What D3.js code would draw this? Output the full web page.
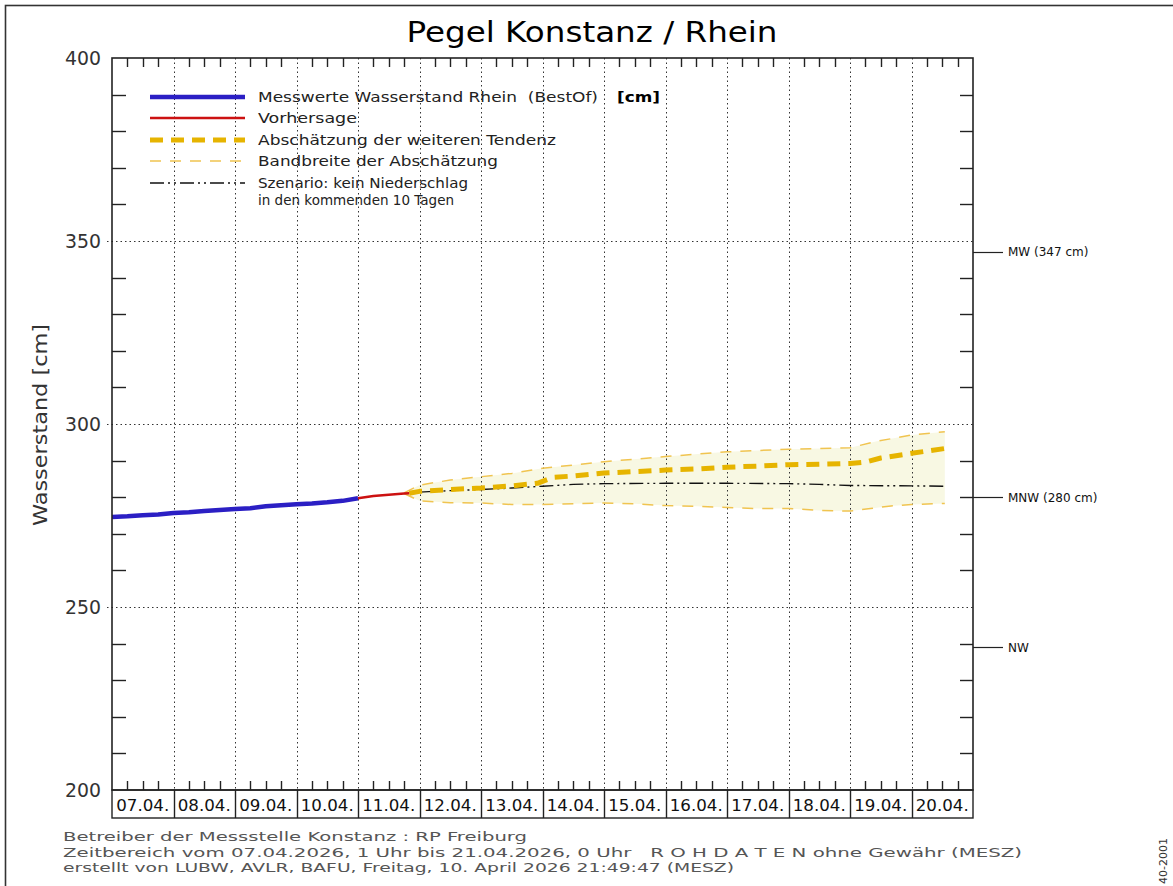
<!DOCTYPE html>
<html>
<head>
<meta charset="utf-8">
<script src="https://cdn.jsdelivr.net/npm/d3@7"></script>
<style>
  body { margin: 0; background: #fff; }
  svg { display: block; }
  text { font-family: "DejaVu Sans", sans-serif; white-space: pre; }
</style>
</head>
<body>
<script>
// Pegel Konstanz / Rhein -- Wasserstand, Vorhersage und Tendenz

var parseTime = d3.timeParse('%d.%m.%Y %H');

var titleText = 'Pegel Konstanz / Rhein';
var yAxisTitle = 'Wasserstand [cm]';
var yTickValues = [200, 250, 300, 350, 400];
var dayLabels = ['07.04.', '08.04.', '09.04.', '10.04.', '11.04.', '12.04.', '13.04.',
  '14.04.', '15.04.', '16.04.', '17.04.', '18.04.', '19.04.', '20.04.'];
var timeStart = '07.04.2026 00';
var timeEnd = '21.04.2026 00';

var refLabels = ['MW (347 cm)', 'MNW (280 cm)', 'NW'];
var refValues = [347, 280, 239];

var footerLines = [
  'Betreiber der Messstelle Konstanz : RP Freiburg',
  'Zeitbereich vom 07.04.2026, 1 Uhr bis 21.04.2026, 0 Uhr   R O H D A T E N ohne Gewähr (MESZ)',
  'erstellt von LUBW, AVLR, BAFU, Freitag, 10. April 2026 21:49:47 (MESZ)'
];
var sideCode = '40-2001';

var legendLabels = [
  'Messwerte Wasserstand Rhein  (BestOf)',
  'Vorhersage',
  'Abschätzung der weiteren Tendenz',
  'Bandbreite der Abschätzung',
  'Szenario: kein Niederschlag'
];
var legendSecondLine = 'in den kommenden 10 Tagen';
var legendUnit = '[cm]';

var measured = [
  ['07.04.2026 00', 274.6], ['07.04.2026 06', 274.8], ['07.04.2026 12', 275.1], ['07.04.2026 18', 275.3],
  ['08.04.2026 00', 275.7], ['08.04.2026 06', 275.9], ['08.04.2026 12', 276.2], ['08.04.2026 18', 276.5],
  ['09.04.2026 00', 276.8], ['09.04.2026 06', 277.0], ['09.04.2026 12', 277.5], ['09.04.2026 18', 277.8],
  ['10.04.2026 00', 278.1], ['10.04.2026 06', 278.3], ['10.04.2026 12', 278.6], ['10.04.2026 18', 279.0],
  ['11.04.2026 00', 279.7]
];

var forecast = [
  ['11.04.2026 00', 279.7], ['11.04.2026 06', 280.3], ['11.04.2026 12', 280.7],
  ['11.04.2026 18', 281.0], ['11.04.2026 20', 281.1]
];

var tendency = [
  ['11.04.2026 20', 281.1], ['12.04.2026 00', 281.6], ['12.04.2026 12', 282.1], ['13.04.2026 00', 282.5],
  ['13.04.2026 12', 283.1], ['13.04.2026 22', 283.8], ['14.04.2026 04', 285.4], ['14.04.2026 12', 285.8],
  ['15.04.2026 00', 286.6], ['15.04.2026 12', 287.0], ['16.04.2026 00', 287.4], ['16.04.2026 12', 287.7],
  ['17.04.2026 00', 288.2], ['17.04.2026 12', 288.5], ['18.04.2026 00', 288.9], ['18.04.2026 12', 289.0],
  ['19.04.2026 00', 289.2], ['19.04.2026 06', 289.6], ['19.04.2026 12', 290.7], ['20.04.2026 00', 292.0],
  ['20.04.2026 06', 292.6], ['20.04.2026 13', 293.3]
];

var bandUpper = [
  ['11.04.2026 18', 281.2], ['12.04.2026 00', 283.3], ['12.04.2026 12', 284.7], ['13.04.2026 00', 285.6],
  ['13.04.2026 12', 286.5], ['14.04.2026 00', 287.9], ['14.04.2026 12', 288.8], ['15.04.2026 00', 289.7],
  ['16.04.2026 00', 291.1], ['17.04.2026 00', 292.4], ['18.04.2026 00', 293.1], ['19.04.2026 00', 293.5],
  ['19.04.2026 10', 295.2], ['20.04.2026 00', 297.0], ['20.04.2026 13', 297.9]
];

var bandLower = [
  ['11.04.2026 18', 281.0], ['12.04.2026 00', 279.0], ['12.04.2026 12', 278.5], ['13.04.2026 00', 278.4],
  ['13.04.2026 12', 278.0], ['14.04.2026 00', 278.0], ['14.04.2026 12', 278.2], ['15.04.2026 00', 278.4],
  ['15.04.2026 12', 278.2], ['16.04.2026 00', 277.7], ['16.04.2026 12', 277.5], ['17.04.2026 00', 277.2],
  ['17.04.2026 12', 276.9], ['18.04.2026 00', 276.9], ['18.04.2026 12', 276.4], ['19.04.2026 00', 276.2],
  ['19.04.2026 08', 276.9], ['19.04.2026 16', 277.6], ['20.04.2026 00', 278.0], ['20.04.2026 13', 278.3]
];

var scenario = [
  ['12.04.2026 00', 281.4], ['12.04.2026 12', 281.8], ['13.04.2026 00', 282.1], ['13.04.2026 12', 282.5],
  ['14.04.2026 00', 283.0], ['14.04.2026 12', 283.5], ['15.04.2026 00', 283.7], ['16.04.2026 00', 283.8],
  ['17.04.2026 00', 283.8], ['18.04.2026 00', 283.7], ['18.04.2026 12', 283.5], ['19.04.2026 00', 283.2],
  ['20.04.2026 00', 283.1], ['20.04.2026 13', 283.0]
];

var width = 1173;
var height = 886;
var plot = {left: 112, right: 973, top: 58, bottom: 790};
var dateRowHeight = 28;

var styles = {
  measured: {stroke: '#2b1fc4', width: 4.5, dash: null},
  forecast: {stroke: '#cc1111', width: 2.5, dash: null},
  tendency: {stroke: '#e6b400', width: 5, dash: '13,8'},
  band: {stroke: '#f0c450', width: 1.5, dash: '11,9'},
  scenario: {stroke: '#111', width: 1.4, dash: '14,4,2,4,2,4'}
};

var x = d3.scaleTime()
  .domain([parseTime(timeStart), parseTime(timeEnd)])
  .range([plot.left, plot.right]);

var y = d3.scaleLinear()
  .domain([200, 400])
  .range([plot.bottom, plot.top]);

var svg = d3.select('body').append('svg')
  .attr('width', width)
  .attr('height', height);

svg.append('rect')
  .attr('width', width).attr('height', height)
  .attr('fill', '#fff');

// outer frame, runs off the picture on right and bottom
svg.append('rect')
  .attr('x', 5.5).attr('y', 5.5)
  .attr('width', width + 20).attr('height', height + 20)
  .attr('fill', 'none')
  .attr('stroke', '#333')
  .attr('stroke-width', 1.6);

function addText(parent, txt, opts) {
  var t = parent.append('text')
    .attr('x', opts.x)
    .attr('y', opts.y)
    .attr('font-size', opts.size)
    .attr('fill', opts.fill || '#222')
    .attr('text-anchor', opts.anchor || 'start')
    .text(txt);
  if (opts.len) {
    t.attr('textLength', opts.len).attr('lengthAdjust', 'spacingAndGlyphs');
  }
  if (opts.weight) t.attr('font-weight', opts.weight);
  if (opts.transform) t.attr('transform', opts.transform);
  return t;
}

addText(svg, titleText, {x: 592, y: 42, size: 29, fill: '#000', anchor: 'middle', len: 371});

// band fill
var lineGen = d3.line()
  .x(function(d) { return x(parseTime(d[0])); })
  .y(function(d) { return y(d[1]); });

var bandPoly = bandUpper.concat(bandLower.slice().reverse());
svg.append('path')
  .attr('d', lineGen(bandPoly) + 'Z')
  .attr('fill', '#f8f8e3')
  .attr('stroke', 'none');

// grid
var days = x.ticks(d3.timeDay.every(1)).filter(function(d) {
  return +d > +x.domain()[0] && +d < +x.domain()[1];
});

var grid = svg.append('g')
  .attr('stroke', '#333')
  .attr('stroke-width', 1)
  .attr('stroke-dasharray', '1.5,3');

grid.selectAll('.vgrid')
  .data(days)
  .enter().append('line')
    .attr('class', 'vgrid')
    .attr('x1', function(d) { return Math.round(x(d)) + 0.5; })
    .attr('x2', function(d) { return Math.round(x(d)) + 0.5; })
    .attr('y1', plot.top)
    .attr('y2', plot.bottom);

grid.selectAll('.hgrid')
  .data([250, 300, 350])
  .enter().append('line')
    .attr('class', 'hgrid')
    .attr('x1', plot.left - 5)
    .attr('x2', plot.right)
    .attr('y1', function(d) { return Math.round(y(d)) + 0.5; })
    .attr('y2', function(d) { return Math.round(y(d)) + 0.5; });

// minor ticks
var sixHours = x.ticks(d3.timeHour.every(6)).filter(function(d) {
  return d.getHours() !== 0;
});
var tenCm = d3.range(210, 400, 10).filter(function(v) { return v % 50 !== 0; });

var ticks = svg.append('g').attr('stroke', '#222').attr('stroke-width', 1.4);

ticks.selectAll('.xt-top')
  .data(sixHours)
  .enter().append('line')
    .attr('x1', function(d) { return Math.round(x(d)) + 0.5; })
    .attr('x2', function(d) { return Math.round(x(d)) + 0.5; })
    .attr('y1', plot.top)
    .attr('y2', plot.top + 9);

ticks.selectAll('.xt-bottom')
  .data(sixHours)
  .enter().append('line')
    .attr('x1', function(d) { return Math.round(x(d)) + 0.5; })
    .attr('x2', function(d) { return Math.round(x(d)) + 0.5; })
    .attr('y1', plot.bottom)
    .attr('y2', plot.bottom - 9);

ticks.selectAll('.yt-left')
  .data(tenCm)
  .enter().append('line')
    .attr('x1', plot.left)
    .attr('x2', plot.left + 14)
    .attr('y1', function(d) { return Math.round(y(d)) + 0.5; })
    .attr('y2', function(d) { return Math.round(y(d)) + 0.5; });

ticks.selectAll('.yt-right')
  .data(tenCm)
  .enter().append('line')
    .attr('x1', plot.right)
    .attr('x2', plot.right - 13)
    .attr('y1', function(d) { return Math.round(y(d)) + 0.5; })
    .attr('y2', function(d) { return Math.round(y(d)) + 0.5; });

// series
function drawSeries(data, style) {
  var p = svg.append('path')
    .attr('d', lineGen(data))
    .attr('fill', 'none')
    .attr('stroke', style.stroke)
    .attr('stroke-width', style.width)
    .attr('stroke-linejoin', 'round');
  if (style.dash) p.attr('stroke-dasharray', style.dash);
  return p;
}

drawSeries(bandUpper, styles.band);
drawSeries(bandLower, styles.band);
drawSeries(scenario, styles.scenario);
drawSeries(tendency, styles.tendency);
drawSeries(measured, styles.measured);
drawSeries(forecast, styles.forecast);

// plot frame
svg.append('rect')
  .attr('x', plot.left).attr('y', plot.top)
  .attr('width', plot.right - plot.left)
  .attr('height', plot.bottom - plot.top)
  .attr('fill', 'none')
  .attr('stroke', '#222')
  .attr('stroke-width', 1.6);

// date row under the plot
var dateRow = svg.append('g');
dateRow.append('rect')
  .attr('x', plot.left).attr('y', plot.bottom)
  .attr('width', plot.right - plot.left)
  .attr('height', dateRowHeight)
  .attr('fill', 'none')
  .attr('stroke', '#222')
  .attr('stroke-width', 1.4);

dateRow.selectAll('.sep')
  .data(days)
  .enter().append('line')
    .attr('x1', function(d) { return Math.round(x(d)) + 0.5; })
    .attr('x2', function(d) { return Math.round(x(d)) + 0.5; })
    .attr('y1', plot.bottom)
    .attr('y2', plot.bottom + dateRowHeight)
    .attr('stroke', '#222')
    .attr('stroke-width', 1.4);

var dayStarts = x.ticks(d3.timeDay.every(1)).slice(0, dayLabels.length);
dayStarts.forEach(function(d, i) {
  var mid = (x(d) + x(d3.timeDay.offset(d, 1))) / 2;
  addText(dateRow, dayLabels[i], {x: mid, y: plot.bottom + 21, size: 15.5, anchor: 'middle', len: 53, fill: '#111'});
});

// y labels
yTickValues.forEach(function(v) {
  addText(svg, String(v), {x: 101, y: y(v) + 7, size: 19, anchor: 'end', len: 36, fill: '#333'});
});

addText(svg, yAxisTitle, {
  x: 0, y: 0, size: 19, anchor: 'middle', len: 202, fill: '#333',
  transform: 'translate(47,425) rotate(-90)'
});

// reference levels on the right
var refs = svg.append('g');
refValues.forEach(function(v, i) {
  refs.append('line')
    .attr('x1', plot.right).attr('x2', plot.right + 30)
    .attr('y1', Math.round(y(v)) + 0.5).attr('y2', Math.round(y(v)) + 0.5)
    .attr('stroke', '#222').attr('stroke-width', 1.2);
  addText(refs, refLabels[i], {x: plot.right + 35, y: y(v) + 4.5, size: 12, fill: '#111'});
});

// legend
var legendX1 = 150;
var legendX2 = 245;
var legendTextX = 258;
var legendRows = [97, 118, 140, 161, 183];
var legendStyles = [styles.measured, styles.forecast, styles.tendency, styles.band, styles.scenario];
var legendLens = [340, 99, 298, 240, 210];

var legend = svg.append('g');
legendRows.forEach(function(ry, i) {
  var st = legendStyles[i];
  var l = legend.append('line')
    .attr('x1', legendX1).attr('x2', legendX2)
    .attr('y1', ry).attr('y2', ry)
    .attr('stroke', st.stroke)
    .attr('stroke-width', st.width);
  if (st.dash) l.attr('stroke-dasharray', st.dash);
  var sz = i === 4 ? 13.5 : 14.5;
  addText(legend, legendLabels[i], {x: legendTextX, y: ry + 5, size: sz, len: legendLens[i], fill: '#222'});
});
addText(legend, legendSecondLine, {x: legendTextX, y: 204.5, size: 13.5, len: 196, fill: '#222'});
addText(legend, legendUnit, {x: 617, y: 102, size: 14.5, len: 43, fill: '#000', weight: 'bold'});

// footer
var footerLens = [464, 959, 671];
footerLines.forEach(function(line, i) {
  addText(svg, line, {x: 63, y: 841 + i * 15.5, size: 13, len: footerLens[i], fill: '#555'});
});

addText(svg, sideCode, {
  x: 0, y: 0, size: 11, fill: '#333',
  transform: 'translate(1167,884) rotate(-90)'
});
</script>
</body>
</html>
